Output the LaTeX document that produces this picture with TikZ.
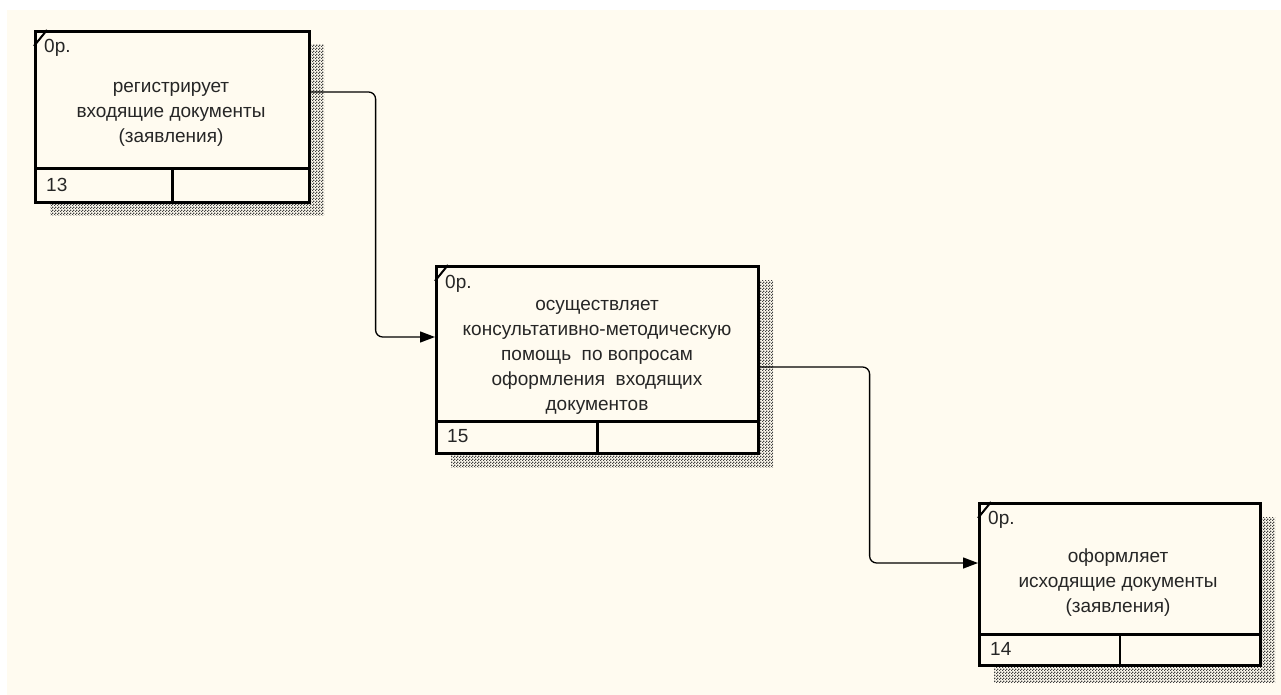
\documentclass[tikz,border=0pt]{standalone}
\usepackage{fontspec}
\setmainfont{Liberation Sans}
\usetikzlibrary{arrows.meta,patterns}
\definecolor{paper}{RGB}{255,251,240}
% fine checkerboard used for the drop shadows
\pgfdeclarepatternformonly{checker}{\pgfqpoint{0pt}{0pt}}{\pgfqpoint{3pt}{3pt}}{\pgfqpoint{3pt}{3pt}}{%
  \pgfpathrectangle{\pgfqpoint{0pt}{0pt}}{\pgfqpoint{1.5pt}{1.5pt}}%
  \pgfpathrectangle{\pgfqpoint{1.5pt}{1.5pt}}{\pgfqpoint{1.5pt}{1.5pt}}%
  \pgfusepath{fill}}
\begin{document}
\begin{tikzpicture}[x=1pt,y=-1pt,
  font=\fontsize{19}{25}\selectfont,
  box/.style={draw=black,line width=2.6pt,fill=paper,anchor=north west,inner sep=0pt},
  shade/.style={pattern=checker,pattern color=black!75},
  lbl/.style={align=center,inner sep=0pt,text=black!85},
  tag/.style={anchor=base west,inner sep=0pt,text=black!85},
  conn/.style={line width=1.3pt,rounded corners=7pt,-{Triangle[length=15pt,width=11pt]}}]
\useasboundingbox (0,0) rectangle (1281,695);
\fill[white] (0,0) rectangle (1281,695);
\fill[paper] (7,10) rectangle (1281,695);

% drop shadows
\fill[shade] (50,45) rectangle (324,215);
\fill[shade] (451,280) rectangle (773,467);
\fill[shade] (994,517) rectangle (1275,682);

% activity boxes
\node[box,minimum width=274pt,minimum height=171pt] (b1) at (34,30) {};
\node[box,minimum width=322pt,minimum height=187pt] (b2) at (435,265) {};
\node[box,minimum width=281pt,minimum height=162pt] (b3) at (978,502) {};

% bottom rows and corner ticks
\foreach \b/\h in {b1/35,b2/33,b3/32}{
  \draw[line width=2.6pt] ([yshift=\h pt]\b.south west) -- ([yshift=\h pt]\b.south east);
  \draw[line width=2.6pt] ([yshift=\h pt]\b.south) -- (\b.south);
  \draw[line width=2pt] ([yshift=-16pt]\b.north west) -- ([xshift=13pt]\b.north west);
}

% cost tags and numbers
\node[tag] (c1) at (44,53) {0р.};
\node[tag] (c2) at (445,288) {0р.};
\node[tag] (c3) at (988,524) {0р.};
\node[tag] (n1) at (46,191) {13};
\node[tag] (n2) at (447,442) {15};
\node[tag] (n3) at (990,655) {14};

% activity names
\node[lbl] (t1) at (171,114) {регистрирует\\входящие документы\\(заявления)};
\node[lbl] (t2) at (597,357) {осуществляет\\консультативно-методическую\\помощь\ \ по вопросам\\оформления\ \ входящих\\документов};
\node[lbl] (t3) at (1118,583) {оформляет\\исходящие документы\\(заявления)};

% connectors
\draw[conn] ([yshift=-62pt]b1.north east) -- ++(65,0) |- ([yshift=-72pt]b2.north west);
\draw[conn] ([yshift=-102pt]b2.north east) -- ++(110,0) |- ([yshift=-61pt]b3.north west);
\end{tikzpicture}
\end{document}
